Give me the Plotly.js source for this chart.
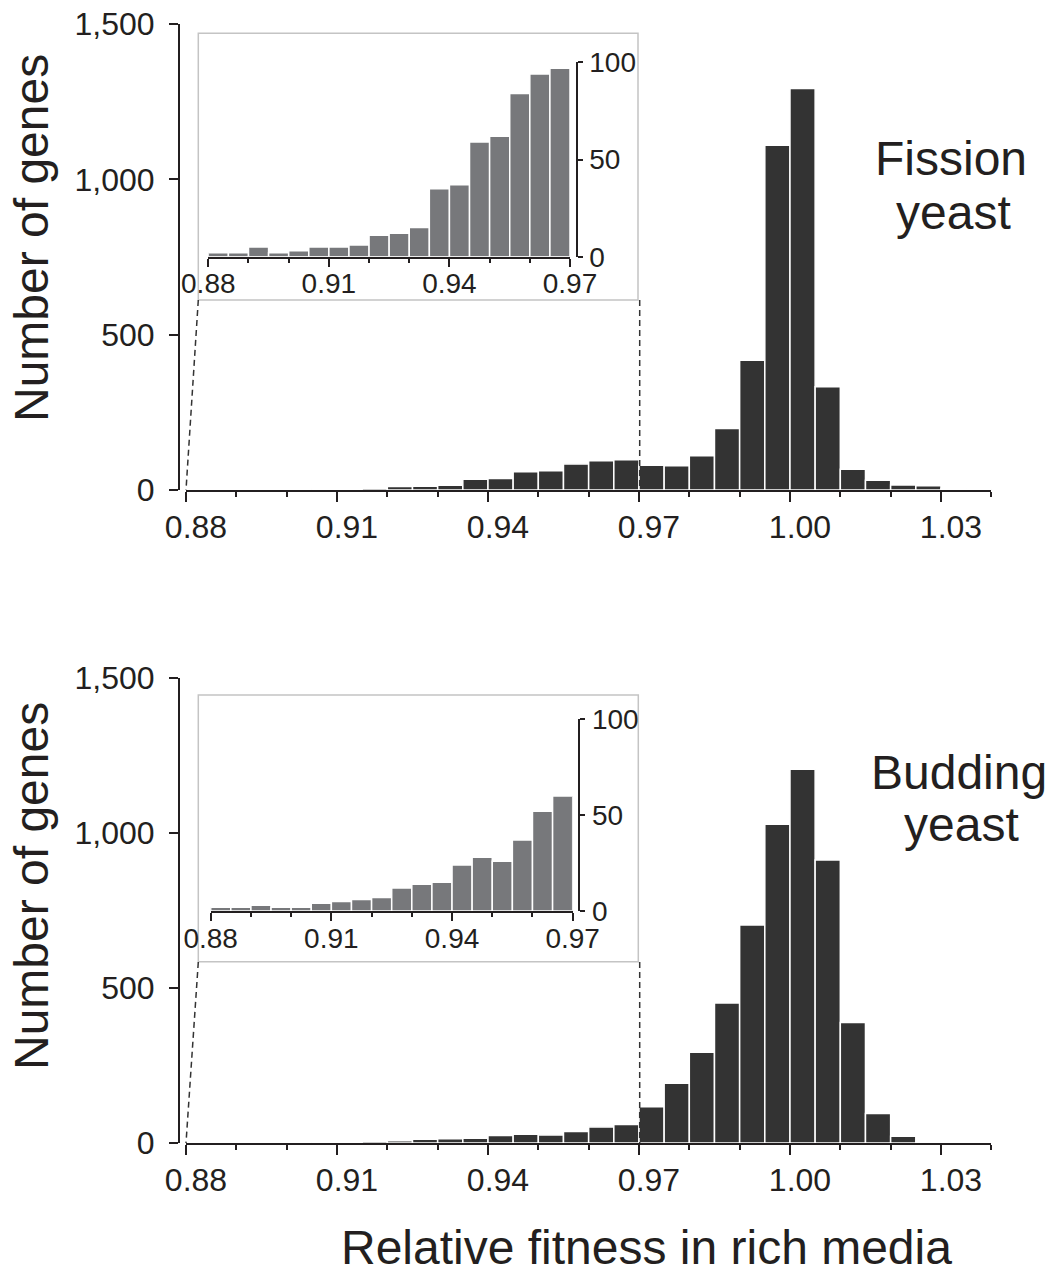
<!DOCTYPE html>
<html>
<head>
<meta charset="utf-8">
<script src="https://cdn.plot.ly/plotly-3.0.1.min.js"></script>
<style>html,body{margin:0;padding:0;background:#fff;}#chart{width:1052px;height:1273px;}</style>
</head>
<body>
<div id="chart"></div>
<script>
// ---- data (bin left edges, width 0.005) ----
const binStart = [0.880, 0.885, 0.890, 0.895, 0.900, 0.905, 0.910, 0.915,
                  0.920, 0.925, 0.930, 0.935, 0.940, 0.945, 0.950, 0.955,
                  0.960, 0.965, 0.970, 0.975, 0.980, 0.985, 0.990, 0.995,
                  1.000, 1.005, 1.010, 1.015, 1.020, 1.025, 1.030, 1.035];
const binWidth = 0.005;
const fissionCounts = [2, 2, 5, 2, 3, 5, 5, 6, 11, 12, 15, 35, 37, 59, 62, 84, 94, 97,
                       80, 78, 110, 198, 418, 1110, 1292, 332, 67, 31, 16, 14, 5, 1];
const buddingCounts = [2, 2, 3, 2, 2, 4, 5, 6, 7, 12, 14, 15, 24, 28, 26, 37, 52, 60,
                       117, 193, 293, 452, 703, 1028, 1206, 913, 389, 95, 22, 0, 0, 0];
const insetBinCount = 18; // bins from 0.88 to 0.97 shown in the insets
const mainXTicks = [0.88, 0.91, 0.94, 0.97, 1.00, 1.03];
const mainYTicks = [0, 500, 1000, 1500];
const insetXTicks = [0.88, 0.91, 0.94, 0.97];
const insetYTicks = [0, 50, 100];
const panelLabels = [["Fission", "yeast"], ["Budding", "yeast"]];
const yTitle = "Number of genes";
const xTitle = "Relative fitness in rich media";

// ---- helpers ----
const W = 1052, H = 1273;
const PX = p => p / W;
const PY = p => 1 - p / H;
const INK = '#231f20';
const FONT = 'Liberation Sans, Arial, Helvetica, sans-serif';

function mainX(domL, domR) {
  return {
    domain: [PX(domL), PX(domR)], range: [0.88, 1.04], fixedrange: true,
    tickmode: 'array', tickvals: mainXTicks, tickformat: '.2f',
    ticks: 'outside', ticklen: 10, tickwidth: 2, tickcolor: INK,
    minor: {dtick: 0.01, tick0: 0.88, ticks: 'outside', ticklen: 5, tickwidth: 2, tickcolor: INK, showgrid: false},
    showline: true, linewidth: 2, linecolor: INK, showgrid: false, zeroline: false,
    tickfont: {family: FONT, size: 32, color: INK}, ticklabelshift: 10, ticklabelstandoff: -2
  };
}
function mainY(top, bottom, pos) {
  return {
    domain: [PY(bottom), PY(top)], range: [0, 1500], fixedrange: true,
    anchor: 'free', position: PX(pos),
    tickmode: 'array', tickvals: mainYTicks, tickformat: ',d',
    ticks: 'outside', ticklen: 9, tickwidth: 2, tickcolor: INK,
    showline: true, linewidth: 2, linecolor: INK, showgrid: false, zeroline: false,
    tickfont: {family: FONT, size: 32, color: INK}, ticklabelstandoff: 8
  };
}
function insetX(domL, domR) {
  return {
    domain: [PX(domL), PX(domR)], range: [0.88, 0.97], fixedrange: true,
    tickmode: 'array', tickvals: insetXTicks, tickformat: '.2f',
    ticks: 'outside', ticklen: 8, tickwidth: 2, tickcolor: INK,
    minor: {dtick: 0.01, tick0: 0.88, ticks: 'outside', ticklen: 4, tickwidth: 2, tickcolor: INK, showgrid: false},
    showline: true, linewidth: 2, linecolor: INK, showgrid: false, zeroline: false,
    tickfont: {family: FONT, size: 28, color: INK}, ticklabelstandoff: -7
  };
}
function insetY(top, bottom, pos) {
  return {
    domain: [PY(bottom), PY(top)], range: [0, 100], fixedrange: true,
    anchor: 'free', position: PX(pos), side: 'right',
    tickmode: 'array', tickvals: insetYTicks,
    ticks: 'outside', ticklen: 5, tickwidth: 2, tickcolor: INK,
    showline: true, linewidth: 2, linecolor: INK, showgrid: false, zeroline: false,
    tickfont: {family: FONT, size: 28, color: INK}, ticklabelstandoff: 1
  };
}
function bars(counts, xa, ya, color, n) {
  const c = n ? counts.slice(0, n) : counts;
  const x = n ? binStart.slice(0, n) : binStart;
  return {
    type: 'bar', x: x, y: c, xaxis: xa, yaxis: ya,
    offset: 0, width: binWidth,
    marker: {color: color, line: {color: '#ffffff', width: 1.5}},
    hoverinfo: 'x+y', showlegend: false
  };
}

const MAIN = '#333333', INSET = '#77787b';
const data = [
  bars(fissionCounts, 'x', 'y', MAIN),
  bars(fissionCounts, 'x2', 'y2', INSET, insetBinCount),
  bars(buddingCounts, 'x3', 'y3', MAIN),
  bars(buddingCounts, 'x4', 'y4', INSET, insetBinCount)
];

function box(l, t, r, b) {
  return {type: 'rect', xref: 'paper', yref: 'paper', x0: PX(l), x1: PX(r), y0: PY(b), y1: PY(t),
          line: {color: '#c4c4c4', width: 1.5}, fillcolor: 'rgba(0,0,0,0)', layer: 'below'};
}
function dashed(x0, y0, x1, y1) {
  return {type: 'line', xref: 'paper', yref: 'paper', x0: PX(x0), y0: PY(y0), x1: PX(x1), y1: PY(y1),
          line: {color: '#333333', width: 1.5, dash: '6px,4px'}};
}
function txt(s, x, y, size, angle) {
  return {text: s, xref: 'paper', yref: 'paper', x: PX(x), y: PY(y), xanchor: 'center', yanchor: 'middle',
          showarrow: false, textangle: angle || 0, font: {family: FONT, size: size, color: INK}};
}

const layout = {
  width: W, height: H, margin: {l: 0, r: 0, t: 0, b: 0},
  paper_bgcolor: '#ffffff', plot_bgcolor: 'rgba(0,0,0,0)',
  showlegend: false, bargap: 0,
  xaxis: Object.assign(mainX(186, 991.3), {anchor: 'y'}),
  yaxis: mainY(24, 490, 179),
  xaxis2: Object.assign(insetX(208.3, 570), {anchor: 'y2'}),
  yaxis2: insetY(62.3, 256.7, 576.7),
  xaxis3: Object.assign(mainX(186, 991.3), {anchor: 'y3'}),
  yaxis3: mainY(678, 1143, 179),
  xaxis4: Object.assign(insetX(210.7, 572.7), {anchor: 'y4'}),
  yaxis4: insetY(719.3, 911, 579.3),
  shapes: [
    box(198.3, 33.3, 638, 300),
    dashed(198.3, 300, 186, 490),
    dashed(639.7, 300, 639.7, 490),
    box(198.3, 695, 638.3, 961.7),
    dashed(198.3, 962, 186, 1143),
    dashed(639.7, 962, 639.7, 1143)
  ],
  annotations: [
    txt(panelLabels[0][0], 951, 158, 48),
    txt(panelLabels[0][1], 953, 212, 48),
    txt(panelLabels[1][0], 959, 772, 48),
    txt(panelLabels[1][1], 961, 824, 48),
    txt(yTitle, 31, 238, 48, -90),
    txt(yTitle, 31, 886, 48, -90),
    txt(xTitle, 646, 1247, 48)
  ]
};

Plotly.newPlot('chart', data, layout, {staticPlot: true, displayModeBar: false});
</script>
</body>
</html>
